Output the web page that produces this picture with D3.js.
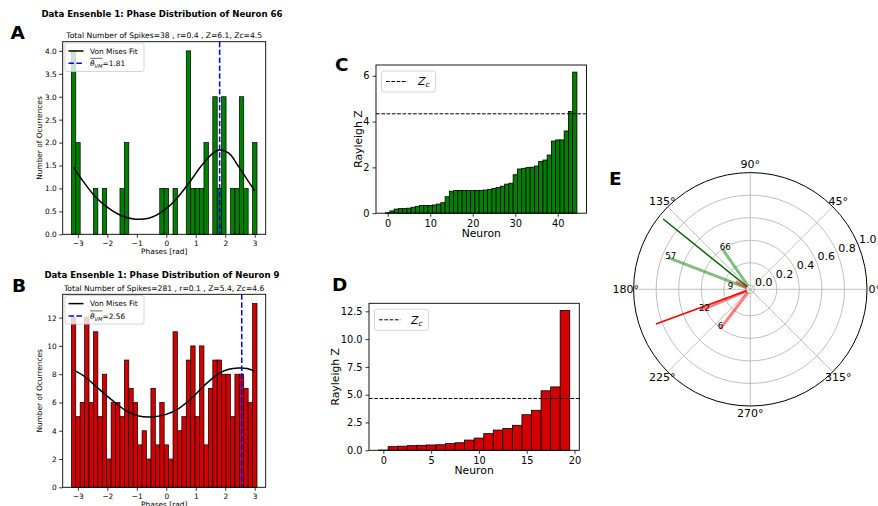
<!DOCTYPE html>
<html><head><meta charset="utf-8">
<script src="https://cdn.jsdelivr.net/npm/d3@7"></script>
<style>
body{margin:0;background:#fff}
svg{display:block}
text{font-family:"DejaVu Sans",sans-serif;fill:#000}
</style>
</head><body>
<svg id="chart" width="878" height="506"></svg>
<script>
// ---------------- DATA ----------------
const phaseBinStart = -3.222;          // left edge of first phase bin (rad)
const phaseBinWidth = 0.15;            // bin width (rad)
const countsA = [4,2,0,0,0,1,0,1,0,0,0,1,2,0,0,0,0,0,0,0,1,1,0,1,0,0,4,1,1,1,2,0,3,1,3,0,1,1,3,1,0,2];
const countsB = [12,5,6,12,6,11,5,8,2,6,6,5,9,7,6,3,4,2,7,3,6,3,2,11,4,5,9,10,5,10,3,7,9,9,8,8,5,8,8,7,6,13];
const vmPhasesA = [-3.14,-2.86,-2.41,-1.96,-1.50,-1.05,-0.60,-0.15,0.31,0.76,1.21,1.55,1.80,2.12,2.45,2.79,3.00];
const vmValuesA = [1.46,1.19,0.82,0.57,0.40,0.33,0.35,0.49,0.75,1.11,1.51,1.75,1.84,1.77,1.48,1.15,0.95];
const vmPhasesB = [-3.15,-2.75,-2.30,-1.84,-1.39,-0.94,-0.49,-0.03,0.42,0.87,1.32,1.78,2.12,2.45,2.74,3.00];
const vmValuesB = [8.30,7.80,6.98,6.16,5.45,5.05,4.98,5.14,5.57,6.32,7.26,8.04,8.35,8.44,8.40,8.22];
const meanPhaseA = 1.81, meanPhaseB = 2.56;
const titleA = "Data Ensenble 1: Phase Distribution of Neuron 66";
const subtitleA = "Total Number of Spikes=38 , r=0.4 , Z=6.1, Zc=4.5";
const titleB = "Data Ensenble 1: Phase Distribution of Neuron 9";
const subtitleB = "Total Number of Spikes=281 , r=0.1 , Z=5.4, Zc=4.6";
const phaseTicks = [-3,-2,-1,0,1,2,3];
const ticksA = [0,0.5,1,1.5,2,2.5,3,3.5,4];
const ticksB = [0,2,4,6,8,10,12];

const rayleighC = [0.02,0.10,0.18,0.20,0.21,0.22,0.26,0.30,0.34,0.34,0.34,0.36,0.40,0.46,0.72,0.96,0.99,0.99,0.99,0.99,0.99,0.99,1.00,1.01,1.04,1.08,1.12,1.18,1.27,1.31,1.68,1.93,1.96,1.99,2.01,2.06,2.26,2.32,2.54,3.15,3.20,3.20,3.59,4.44,6.16];
const zcC = 4.34;
const ticksCx = [0,10,20,30,40], ticksCy = [0,2,4,6];
const rayleighD = [0.02,0.33,0.37,0.42,0.45,0.48,0.50,0.60,0.68,0.92,1.10,1.50,1.82,1.97,2.25,3.20,3.60,5.35,5.70,12.58];
const zcD = 4.66;
const ticksDx = [0,5,10,15,20], ticksDy = [0,2.5,5,7.5,10,12.5];

const polarLabels = ["66","57","9","22","6"];
const polarAngles = [124.6,158.9,152,203,232.8];   // degrees
const polarR = [0.396,0.745,0.11,0.43,0.40];
const polarGroup = ["g","g","r","r","r"];
const meanAngles = [141.1,200.2];
const meanR = [0.958,0.857];
const meanGroup = ["g","r"];
const polarRTicks = [0,0.2,0.4,0.6,0.8,1.0];
const polarThetaTicks = [0,45,90,135,180,225,270,315];

// ---------------- DRAW ----------------
const svg = d3.select("#chart");
const GREEN = "#008000", RED = "#d40000";

function styleAxis(g, fs){
  g.selectAll("text").style("font-size", fs+"px").attr("fill","#000");
  g.selectAll("line").attr("stroke","#000").attr("stroke-width",0.8);
  g.select(".domain").remove();
}

function frame(x0,x1,y0,y1){
  svg.append("rect").attr("x",x0).attr("y",y0).attr("width",x1-x0).attr("height",y1-y0)
    .attr("fill","none").attr("stroke","#000").attr("stroke-width",0.9);
}

function panelLetter(t,x,y){
  svg.append("text").attr("x",x).attr("y",y).text(t)
    .style("font-family","'DejaVu Sans',sans-serif").style("font-weight","bold").style("font-size","18.5px");
}

function histPanel(o){
  const x = d3.scaleLinear().domain([-3.515,3.373]).range([o.x0,o.x1]);
  const y = d3.scaleLinear().domain([0,o.ymax]).range([o.y1,o.y0]);
  const g = svg.append("g");
  const bins = o.counts.map((c,i)=>({c, e0: phaseBinStart+i*phaseBinWidth, e1: phaseBinStart+(i+1)*phaseBinWidth}));
  g.selectAll("rect.bar").data(bins.filter(b=>b.c>0)).join("rect")
    .attr("x",d=>x(d.e0)).attr("width",d=>x(d.e1)-x(d.e0))
    .attr("y",d=>y(d.c)).attr("height",d=>y(0)-y(d.c))
    .attr("fill",o.color).attr("stroke","#000").attr("stroke-width",0.7);
  const line = d3.line().x(d=>x(d[0])).y(d=>y(d[1])).curve(d3.curveCatmullRom);
  g.append("path").datum(o.vmX.map((v,i)=>[v,o.vmY[i]])).attr("d",line)
    .attr("fill","none").attr("stroke","#000").attr("stroke-width",1.5);
  g.append("line").attr("x1",x(o.mean)).attr("x2",x(o.mean)).attr("y1",o.y0).attr("y2",o.y1)
    .attr("stroke","#0000ff").attr("stroke-width",1.5).attr("stroke-dasharray","5.5,2.4");
  frame(o.x0,o.x1,o.y0,o.y1);
  const ax = svg.append("g").attr("transform",`translate(0,${o.y1})`)
    .call(d3.axisBottom(x).tickValues(phaseTicks).tickFormat(d3.format("d")).tickSize(3.5).tickPadding(2.5));
  styleAxis(ax,7.4);
  const ay = svg.append("g").attr("transform",`translate(${o.x0},0)`)
    .call(d3.axisLeft(y).tickValues(o.yticks).tickFormat(o.yfmt).tickSize(3.5).tickPadding(2.5));
  styleAxis(ay,7.4);
  svg.append("text").attr("x",(o.x0+o.x1)/2).attr("y",o.y1+19.2).attr("text-anchor","middle")
    .style("font-size","7.4px").text("Phases [rad]");
  svg.append("text").attr("transform",`translate(${o.x0-20.5},${(o.y0+o.y1)/2}) rotate(-90)`)
    .attr("text-anchor","middle").style("font-size","7.4px").text("Number of Ocurrences");
  svg.append("text").attr("x",(o.x0+o.x1)/2).attr("y",o.y0-3.4).attr("text-anchor","middle")
    .style("font-size","7.6px").text(o.sub);
  svg.append("text").attr("x",162).attr("y",o.titleY).attr("text-anchor","middle")
    .style("font-size","8.6px").style("font-weight","bold").text(o.title);
  // legend
  const lx = o.x0+2.3, ly = o.y0+1.3;
  svg.append("rect").attr("x",lx).attr("y",ly).attr("width",79).attr("height",28.5).attr("rx",2)
    .attr("fill","#fff").attr("fill-opacity",0.8).attr("stroke","#cccccc").attr("stroke-width",0.8);
  svg.append("line").attr("x1",lx+3.5).attr("x2",lx+18.5).attr("y1",ly+8).attr("y2",ly+8)
    .attr("stroke","#000").attr("stroke-width",1.5);
  svg.append("text").attr("x",lx+25).attr("y",ly+10.6).style("font-size","7.4px").text("Von Mises Fit");
  svg.append("line").attr("x1",lx+3.5).attr("x2",lx+18.5).attr("y1",ly+20.3).attr("y2",ly+20.3)
    .attr("stroke","#0000ff").attr("stroke-width",1.5).attr("stroke-dasharray","5.5,2.4");
  const t = svg.append("text").attr("x",lx+25).attr("y",ly+23.3).style("font-size","7.4px");
  t.append("tspan").style("font-style","italic").text("θ");
  t.append("tspan").style("font-style","italic").style("font-size","5.2px").attr("dy",1.6).text("VM");
  t.append("tspan").attr("dy",-1.6).text("="+o.mean.toFixed(2));
  const ovl = t.node().getSubStringLength(0,3);
  svg.append("line").attr("x1",lx+25).attr("x2",lx+25+ovl).attr("y1",ly+15.3).attr("y2",ly+15.3)
    .attr("stroke","#000").attr("stroke-width",0.6);
}

histPanel({x0:62.7,x1:265.7,y0:41.7,y1:234.3,ymax:4.2,counts:countsA,color:GREEN,
  vmX:vmPhasesA,vmY:vmValuesA,mean:meanPhaseA,yticks:ticksA,yfmt:d3.format(".1f"),
  title:titleA,sub:subtitleA,titleY:17});
histPanel({x0:62.7,x1:265.7,y0:294.3,y1:487.3,ymax:13.65,counts:countsB,color:RED,
  vmX:vmPhasesB,vmY:vmValuesB,mean:meanPhaseB,yticks:ticksB,yfmt:d3.format("d"),
  title:titleB,sub:subtitleB,titleY:278.4});

function rayleighPanel(o){
  const n = o.values.length;
  const x = d3.scaleLinear().domain([-0.5-0.05*n, n-0.5+0.05*n]).range([o.x0,o.x1]);
  const y = d3.scaleLinear().domain([0,o.ymax]).range([o.y1,o.y0]);
  svg.append("g").selectAll("rect").data(o.values).join("rect")
    .attr("x",(d,i)=>x(i-0.5)).attr("width",(d,i)=>x(i+0.5)-x(i-0.5))
    .attr("y",d=>y(d)).attr("height",d=>y(0)-y(d))
    .attr("fill",o.color).attr("stroke","#000").attr("stroke-width",0.8);
  svg.append("line").attr("x1",o.x0).attr("x2",o.x1).attr("y1",y(o.zc)).attr("y2",y(o.zc))
    .attr("stroke","#000").attr("stroke-width",1).attr("stroke-dasharray","3.7,1.6");
  frame(o.x0,o.x1,o.y0,o.y1);
  const ax = svg.append("g").attr("transform",`translate(0,${o.y1})`)
    .call(d3.axisBottom(x).tickValues(o.xticks).tickFormat(d3.format("d")).tickSize(3.5).tickPadding(3));
  styleAxis(ax,9.8);
  const ay = svg.append("g").attr("transform",`translate(${o.x0},0)`)
    .call(d3.axisLeft(y).tickValues(o.yticks).tickFormat(o.yfmt).tickSize(3.5).tickPadding(3));
  styleAxis(ay,9.8);
  svg.append("text").attr("x",(o.x0+o.x1)/2).attr("y",o.y1+24).attr("text-anchor","middle")
    .style("font-size","10.8px").text("Neuron");
  svg.append("text").attr("transform",`translate(${o.ylx},${(o.y0+o.y1)/2}) rotate(-90)`)
    .attr("text-anchor","middle").style("font-size","10.8px").text("Rayleigh Z");
  // legend
  const lx=o.x0+5.5, ly=o.y0+6;
  svg.append("rect").attr("x",lx).attr("y",ly).attr("width",54).attr("height",21).attr("rx",2.5)
    .attr("fill","#fff").attr("fill-opacity",0.8).attr("stroke","#cccccc").attr("stroke-width",0.8);
  svg.append("line").attr("x1",lx+4.5).attr("x2",lx+26).attr("y1",ly+10.5).attr("y2",ly+10.5)
    .attr("stroke","#000").attr("stroke-width",1).attr("stroke-dasharray","3.7,1.6");
  const t = svg.append("text").attr("x",lx+36.5).attr("y",ly+14.3).style("font-size","10.8px");
  t.append("tspan").style("font-style","italic").text("Z");
  t.append("tspan").style("font-style","italic").style("font-size","7.6px").attr("dy",2).text("c");
}

rayleighPanel({x0:376,x1:586.5,y0:65,y1:213.2,ymax:6.47,values:rayleighC,zc:zcC,color:GREEN,
  xticks:ticksCx,yticks:ticksCy,yfmt:d3.format("d"),ylx:362});
rayleighPanel({x0:369,x1:579.3,y0:303.3,y1:450.3,ymax:13.22,values:rayleighD,zc:zcD,color:RED,
  xticks:ticksDx,yticks:ticksDy,yfmt:d3.format(".1f"),ylx:339});

// polar
(function(){
  const cx=750.3, cy=289.3, R=116.7;
  const r = d3.scaleLinear().domain([-0.0355,1.0]).range([0,R]);
  const P = (deg,v)=>{const a=deg*Math.PI/180; return [cx+r(v)*Math.cos(a), cy-r(v)*Math.sin(a)];};
  const g = svg.append("g");
  g.selectAll("circle.ring").data(polarRTicks.slice(0,-1)).join("circle")
    .attr("cx",cx).attr("cy",cy).attr("r",d=>r(d)).attr("fill","none").attr("stroke","#b0b0b0").attr("stroke-width",0.8);
  g.selectAll("line.spoke").data(polarThetaTicks).join("line")
    .attr("x1",cx).attr("y1",cy).attr("x2",d=>P(d,1)[0]).attr("y2",d=>P(d,1)[1])
    .attr("stroke","#b0b0b0").attr("stroke-width",0.8);
  const items = polarLabels.map((l,i)=>({l,a:polarAngles[i],v:polarR[i],grp:polarGroup[i]}));
  const means = meanAngles.map((a,i)=>({a,v:meanR[i],grp:meanGroup[i]}));
  ["g","r"].forEach(grp=>{
    items.filter(d=>d.grp===grp).forEach(d=>{
      const s=P(d.a,0), e=P(d.a,d.v);
      g.append("line").attr("x1",s[0]).attr("y1",s[1]).attr("x2",e[0]).attr("y2",e[1])
        .attr("stroke",grp==="g"?"#008000":"#ff0000").attr("stroke-opacity",0.5).attr("stroke-width",3);
    });
    means.filter(d=>d.grp===grp).forEach(d=>{
      const s=P(d.a,0), e=P(d.a,d.v);
      g.append("line").attr("x1",s[0]).attr("y1",s[1]).attr("x2",e[0]).attr("y2",e[1])
        .attr("stroke",grp==="g"?"#006400":"#ff0000").attr("stroke-width",1.5);
    });
  });
  items.forEach(d=>{
    const e=P(d.a,d.v);
    const dx = d.l==="9" ? -8 : -3, dy = d.l==="9" ? 7 : 1;
    g.append("text").attr("x",e[0]+dx).attr("y",e[1]+dy).style("font-size","8.6px").text(d.l);
  });
  g.append("circle").attr("cx",cx).attr("cy",cy).attr("r",R).attr("fill","none").attr("stroke","#000").attr("stroke-width",1);
  polarThetaTicks.forEach(t=>{
    const a=t*Math.PI/180;
    g.append("text").attr("x",cx+124.5*Math.cos(a)).attr("y",cy-124.5*Math.sin(a))
      .attr("text-anchor","middle").attr("dominant-baseline","central").style("font-size","11px").text(t+"°");
  });
  polarRTicks.forEach(v=>{
    const p=P(22.5,v);
    g.append("text").attr("x",p[0]+1).attr("y",p[1]-1.5).style("font-size","11px").text(v.toFixed(1));
  });
})();

panelLetter("A",10.5,39.3);
panelLetter("B",12,291.7);
panelLetter("C",335,70.7);
panelLetter("D",332,290.7);
panelLetter("E",609,185.3);
</script>
</body></html>
